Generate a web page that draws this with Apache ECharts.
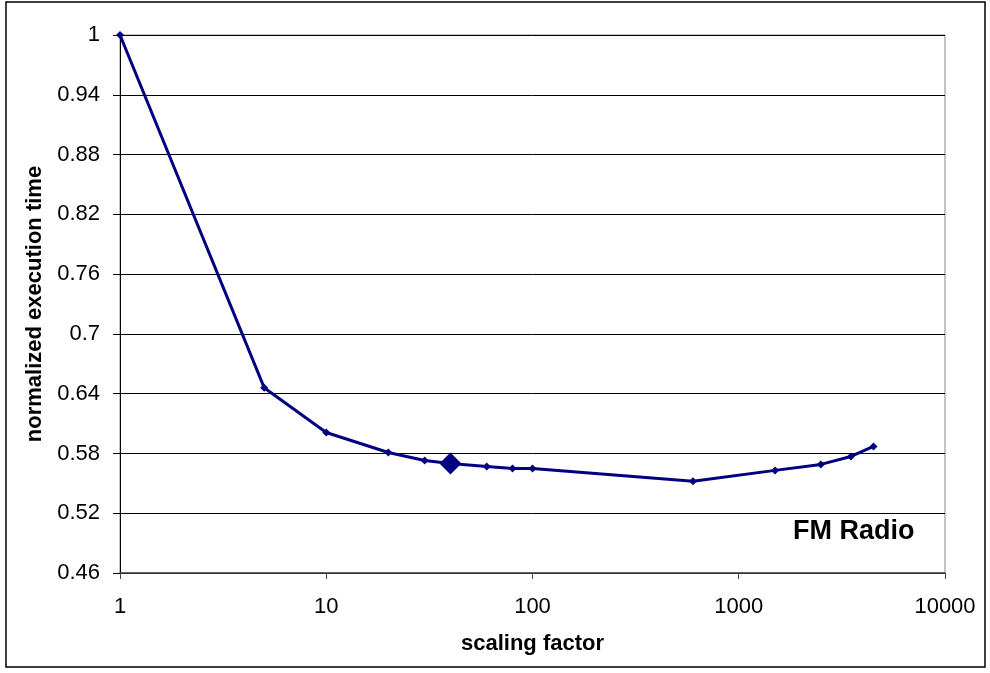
<!DOCTYPE html>
<html><head><meta charset="utf-8">
<script src="https://cdn.jsdelivr.net/npm/echarts@6/dist/echarts.min.js"></script>
<style>html,body{margin:0;padding:0;background:#fff}#c{width:990px;height:673px}</style>
</head><body><div id="c"></div>
<script>
const scalingFactors = [1, 5, 10, 20, 30, 40, 60, 80, 100, 600, 1500, 2500, 3500, 4500];
const execTimes = [1.0, 0.646, 0.601, 0.581, 0.573, 0.570, 0.567, 0.565, 0.565, 0.552, 0.563, 0.569, 0.577, 0.587];
const highlightIndex = 5;
const yTicks = [0.46, 0.52, 0.58, 0.64, 0.7, 0.76, 0.82, 0.88, 0.94, 1];
const xTicks = [1, 10, 100, 1000, 10000];

const chart = echarts.init(document.getElementById('c'));
const data = scalingFactors.map((x, i) => ({
  value: [x, execTimes[i]],
  symbolSize: i === highlightIndex ? 22 : 8
}));
chart.setOption({
  animation: false,
  grid: {left: 120, right: 45, top: 35, bottom: 100, show: true, borderColor: '#888', borderWidth: 1},
  xAxis: {
    type: 'log', logBase: 10, min: xTicks[0], max: xTicks[xTicks.length - 1],
    name: 'scaling factor', nameLocation: 'middle', nameGap: 60,
    nameTextStyle: {fontFamily: 'Liberation Sans', fontWeight: 'bold', fontSize: 22, color: '#000'},
    axisLine: {lineStyle: {color: '#444', width: 1.5}},
    axisTick: {length: 6, lineStyle: {color: '#444'}},
    axisLabel: {fontFamily: 'Liberation Sans', fontSize: 22, color: '#000', margin: 23,
      formatter: v => String(Math.round(v))},
    splitLine: {show: false}, minorTick: {show: false}
  },
  yAxis: {
    type: 'value', min: yTicks[0], max: yTicks[yTicks.length - 1], interval: 0.06,
    name: 'normalized execution time', nameLocation: 'middle', nameGap: 70, nameRotate: 90,
    nameTextStyle: {fontFamily: 'Liberation Sans', fontWeight: 'bold', fontSize: 22, color: '#000'},
    axisLine: {show: true, lineStyle: {color: '#000', width: 1}},
    axisTick: {show: true, length: 7, lineStyle: {color: '#000'}},
    axisLabel: {fontFamily: 'Liberation Sans', fontSize: 22, color: '#000', margin: 20,
      formatter: v => String(+v.toFixed(2))},
    splitLine: {show: true, lineStyle: {color: '#000', width: 1}}
  },
  series: [{
    type: 'line', data: data, symbol: 'diamond',
    lineStyle: {color: '#000080', width: 3},
    itemStyle: {color: '#000080'}
  }],
  graphic: [
    {type: 'rect', shape: {x: 6, y: 2, width: 979, height: 665}, style: {fill: 'none', stroke: '#000', lineWidth: 1.5}, z: -1},
    {type: 'text', left: 793, top: 518, style: {text: 'FM Radio', fontFamily: 'Liberation Sans', fontWeight: 'bold', fontSize: 27, fill: '#000'}}
  ]
});
</script></body></html>
